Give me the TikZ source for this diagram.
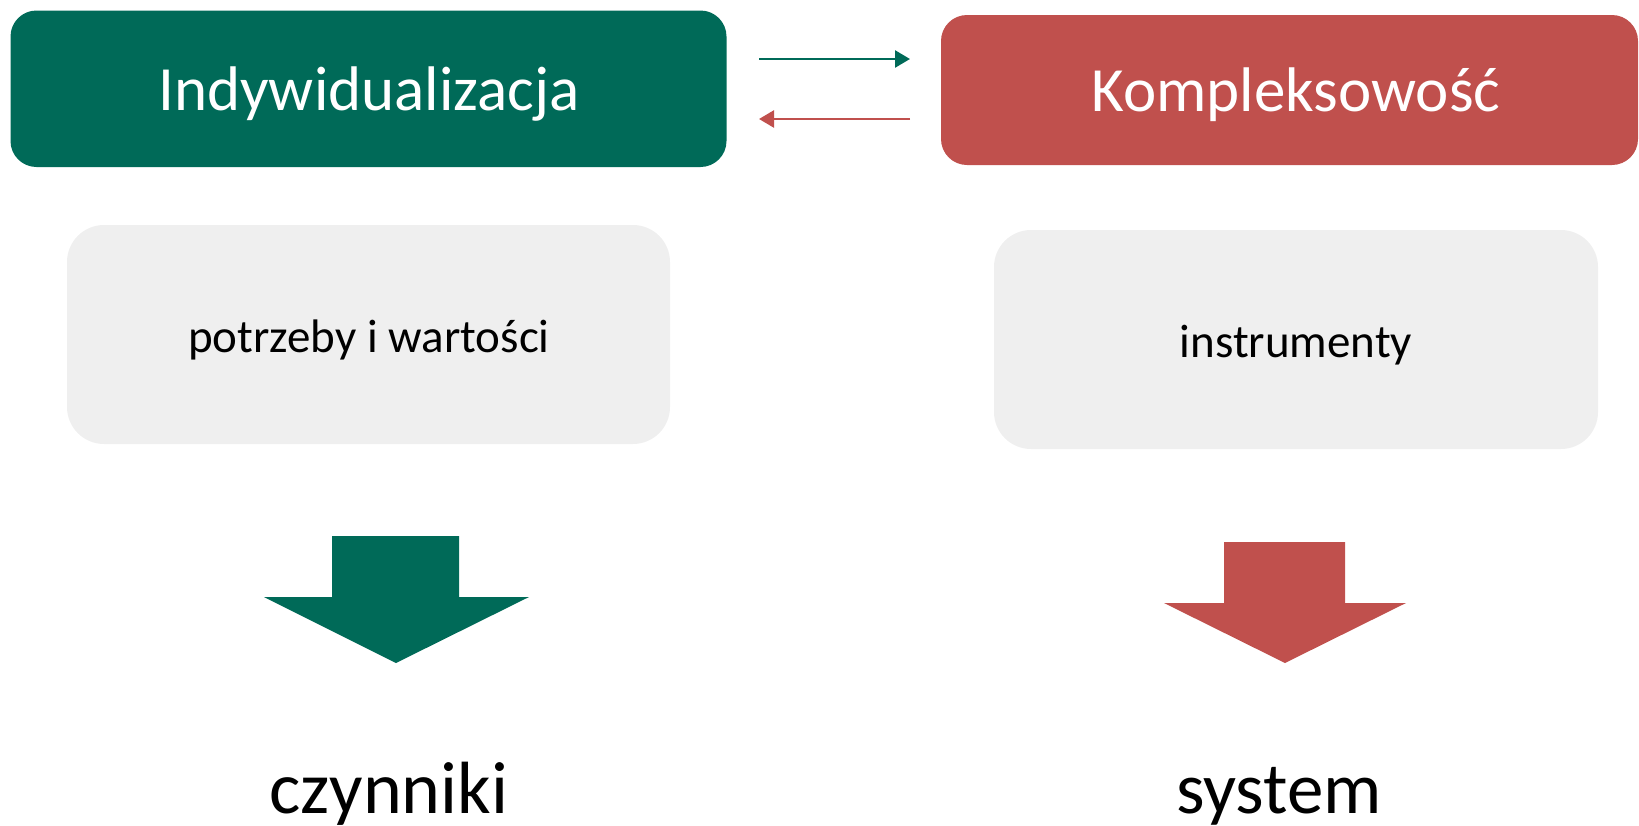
\documentclass[tikz,border=0pt]{standalone}
\usepackage{fontspec}
\setmainfont{Carlito}
\usetikzlibrary{arrows.meta}
\definecolor{dgreen}{RGB}{0,106,88}
\definecolor{dred}{RGB}{192,80,77}
\definecolor{lgray}{RGB}{239,239,239}
\begin{document}
\begin{tikzpicture}[x=1pt,y=-1pt,
  titlebox/.style={inner sep=0pt, outer sep=0pt, rounded corners=26pt},
  graybox/.style={fill=lgray, inner sep=0pt, outer sep=0pt, rounded corners=37pt},
  lbl/.style={inner sep=0pt, anchor=base},
  smallarrow/.style={line width=2.5pt, -{Triangle[length=15pt,width=17pt]}},
]
\useasboundingbox (0,0) rectangle (1639,825);
% title boxes
\node[titlebox, fill=dgreen, minimum width=716pt, minimum height=156.5pt] (g) at (368.5,88.75) {};
\node[titlebox, fill=dred, minimum width=697pt, minimum height=150pt] (r) at (1289.5,90) {};
\node[lbl, text=white, font=\fontsize{63}{70}\selectfont] (gt) at (369,110) {Indywidualizacja};
\node[lbl, text=white, font=\fontsize{63}{70}\selectfont] (rt) at (1296,111) {Kompleksowość};
% gray boxes
\node[graybox, minimum width=603pt, minimum height=219pt] (lg) at (368.5,334.5) {};
\node[graybox, minimum width=604pt, minimum height=219pt] (rg) at (1296,339.5) {};
\node[lbl, font=\fontsize{47}{54}\selectfont] (lgt) at (369,352) {potrzeby i wartości};
\node[lbl, font=\fontsize{47}{54}\selectfont] (rgt) at (1296,357) {instrumenty};
% small arrows
\coordinate (a1s) at (759,59);
\coordinate (a1e) at (910,59);
\coordinate (a2s) at (910,119);
\coordinate (a2e) at (759,119);
\draw[smallarrow, dgreen] (a1s) -- (a1e);
\draw[smallarrow, dred] (a2s) -- (a2e);
% big down arrows
\fill[dgreen] (332,536) -- (459,536) -- (459,597) -- (529,597) -- (396,663) -- (264,597) -- (332,597) -- cycle;
\fill[dred] (1224,542) -- (1345,542) -- (1345,603) -- (1406,603) -- (1285,663) -- (1164,603) -- (1224,603) -- cycle;
% bottom labels
\node[lbl, font=\fontsize{74}{80}\selectfont] (cz) at (389,813) {czynniki};
\node[lbl, font=\fontsize{73}{80}\selectfont] (sy) at (1279,813) {system};
\end{tikzpicture}
\end{document}
